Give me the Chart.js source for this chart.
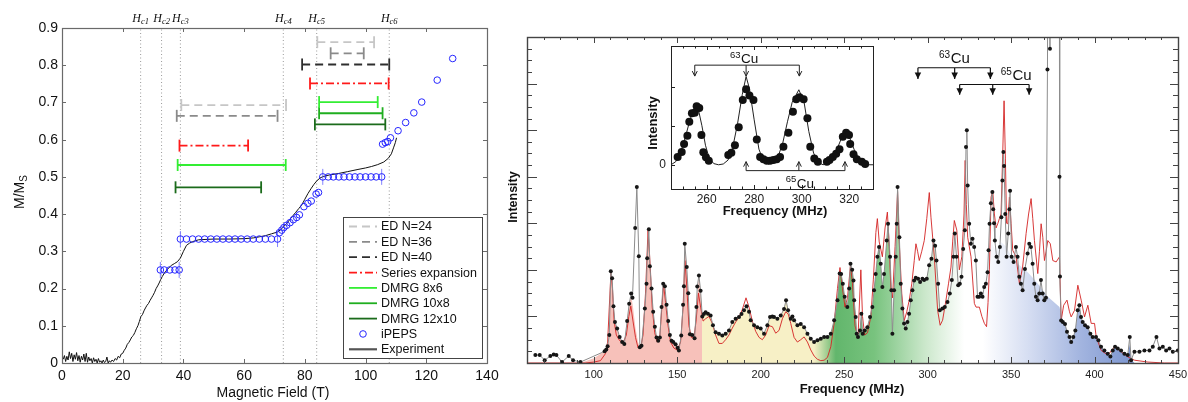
<!DOCTYPE html>
<html>
<head>
<meta charset="utf-8">
<script src="https://cdn.jsdelivr.net/npm/chart.js@4.4.1/dist/chart.umd.min.js"></script>
<style>
  html, body { margin: 0; padding: 0; background: #fff; }
  #lienzo { position: relative; width: 1188px; height: 402px; overflow: hidden; }
  .caja { position: absolute; }
</style>
</head>
<body>
<div id="lienzo">
  <div class="caja" style="left:0;top:0;width:500px;height:402px"><canvas id="graficoMag" width="500" height="402" style="width:500px;height:402px"></canvas></div>
  <div class="caja" style="left:500px;top:0;width:688px;height:402px"><canvas id="graficoNMR" width="688" height="402" style="width:688px;height:402px"></canvas></div>
  <div class="caja" style="left:630px;top:40px;width:250px;height:182px"><canvas id="graficoInset" width="250" height="182" style="width:250px;height:182px"></canvas></div>
</div>
<script>
// ================== DATOS: panel izquierdo (magnetización) ==================
const ticksCampo = [0, 20, 40, 60, 80, 100, 120, 140];
const ticksMag = [0, 0.1, 0.2, 0.3, 0.4, 0.5, 0.6, 0.7, 0.8, 0.9];

// campos críticos Hc1..Hc6 (líneas punteadas)
const nombresHc = ["c1", "c2", "c3", "c4", "c5", "c6"];
const camposHc = [25.9, 32.8, 39.0, 72.9, 83.9, 107.8];

// intervalos [campo inicial, campo final, M/Ms]
const edN24 = [[39.3, 73.8, 0.693], [84.1, 102.8, 0.862]];
const edN36 = [[37.8, 71.0, 0.664], [88.5, 99.4, 0.832]];
const edN40 = [[79.1, 107.8, 0.802]];
const serieExpansion = [[38.7, 61.3, 0.584], [81.7, 107.6, 0.751]];
const dmrg8x6 = [[38.1, 73.7, 0.532], [84.7, 104.0, 0.701]];
const dmrg10x8 = [[84.7, 105.6, 0.671]];
const dmrg12x10 = [[37.4, 65.6, 0.472], [83.3, 106.5, 0.641]];

// puntos iPEPS
const ipeps = [
  [32.4, 0.25], [33.7, 0.25], [35.5, 0.25], [37.2, 0.25], [38.6, 0.25],
  [39, 0.333], [41, 0.333], [43, 0.333], [45, 0.333], [47, 0.333], [49, 0.333], [51, 0.333], [53, 0.333],
  [55, 0.333], [57, 0.333], [59, 0.333], [61, 0.333], [63, 0.333], [65, 0.333], [67, 0.333], [69, 0.333], [71, 0.333],
  [71.6, 0.35], [72.4, 0.357], [73.1, 0.364], [74.0, 0.37], [75.1, 0.377], [76.2, 0.385], [77.3, 0.391], [78.2, 0.398],
  [79.7, 0.42], [81.0, 0.429], [82.1, 0.435], [83.7, 0.454], [84.5, 0.458],
  [85.9, 0.5], [87.7, 0.5], [89.4, 0.5], [91.2, 0.5], [92.9, 0.5], [94.7, 0.5], [96.5, 0.5], [98.2, 0.5],
  [100.0, 0.5], [101.8, 0.5], [103.5, 0.5], [105.3, 0.5],
  [105.6, 0.588], [106.5, 0.592], [107.3, 0.595], [108.2, 0.605],
  [110.7, 0.624], [113.2, 0.646], [115.9, 0.672], [118.5, 0.701], [123.6, 0.76], [128.7, 0.818]
];
// barras de error de iPEPS
const ipepsError = [[32.4, 0.25], [38.6, 0.25], [39, 0.333], [71, 0.333], [85.9, 0.5], [105.3, 0.5]];

// curva experimental
const experimento = [
  [0.4, 0.01], [0.8, 0.02], [1.2, 0.004], [1.6, 0.018], [2.0, 0.008], [2.4, 0.03], [2.8, 0.012], [3.2, 0.026],
  [3.6, 0.004], [4.0, 0.022], [4.4, 0.01], [4.8, 0.028], [5.2, 0.006], [5.6, 0.02], [6.0, 0.002], [6.4, 0.018],
  [6.8, 0.008], [7.2, 0.024], [7.6, 0.004], [8.0, 0.026], [8.4, 0.002], [8.8, 0.016], [9.2, 0.006], [9.6, 0.012],
  [10.0, 0.0], [10.4, 0.014], [10.8, 0.004], [11.2, 0.01], [11.6, 0.0], [12.0, 0.012], [12.4, 0.002], [12.8, 0.006],
  [13.2, 0.0], [13.6, 0.008], [14.0, 0.001], [14.4, 0.004], [14.8, 0.016], [15.2, 0.0], [15.6, 0.006], [16.0, 0.002],
  [16.5, 0.008], [17.0, 0.004], [17.5, 0.012], [18.0, 0.008], [18.5, 0.018], [19.0, 0.014], [19.5, 0.024], [20.0, 0.026],
  [20.5, 0.034], [21, 0.04], [21.5, 0.05], [22, 0.055], [22.5, 0.062], [23, 0.07], [23.5, 0.074], [24, 0.082],
  [24.5, 0.092], [25, 0.1], [25.5, 0.112], [26, 0.125], [26.5, 0.13], [27, 0.14], [27.5, 0.148], [28, 0.155],
  [28.5, 0.16], [29, 0.168], [29.5, 0.175], [30, 0.182], [30.5, 0.19], [31, 0.2], [31.5, 0.207], [32, 0.215],
  [32.5, 0.224], [33, 0.232], [34, 0.245], [35, 0.254], [36, 0.262], [37, 0.267], [38, 0.272], [39, 0.282],
  [40, 0.3], [41, 0.316], [42, 0.322], [43, 0.326], [45, 0.331], [50, 0.333], [55, 0.333], [60, 0.334],
  [63, 0.336], [65, 0.339], [67, 0.342], [69, 0.347], [71, 0.352], [72, 0.358], [73, 0.366], [74, 0.375],
  [75, 0.385], [76, 0.395], [77, 0.405], [78, 0.415], [79, 0.425], [80, 0.44], [81, 0.455], [82, 0.468],
  [83, 0.48], [84, 0.49], [85, 0.497], [86, 0.501], [88, 0.505], [91, 0.509], [94, 0.514], [97.5, 0.52],
  [100, 0.524], [102, 0.528], [104, 0.533], [106, 0.54], [107.5, 0.55], [108.5, 0.562], [109.2, 0.578],
  [109.8, 0.592], [110.2, 0.605]
];

// ================== DATOS: panel derecho (espectro NMR) ==================
const ticksFrecuencia = [100, 150, 200, 250, 300, 350, 400, 450];
const ticksInset = [260, 280, 300, 320];

// espectro medido (puntos negros)
const datosNMR = [
  [65, 0.17], [67.6, 0.17], [70.6, 0.06], [74, 0.15], [76, 0.18], [77.6, 0.17], [81, 0.02], [85, 0.15],
  [87.6, 0.06], [92, 0.02], [106.5, 0.25], [107.5, 0.29], [108.3, 0.36], [109.3, 0.6], [110.2, 1.97], [111, 1.82],
  [111.8, 1.22], [112.7, 0.88], [114, 0.74], [115.5, 0.56], [117, 0.45], [118.3, 0.41], [120, 0.9], [121.2, 1.27],
  [122.4, 1.49], [123.2, 1.4], [124.8, 2.9], [125.8, 3.78], [127, 2.29], [127.6, 0.34], [128.6, 0.37], [130.6, 1.17],
  [131.6, 1.7], [132, 2.25], [133, 2.87], [133.6, 2.08], [134.6, 1.6], [135.6, 1.1], [136.6, 0.78], [137.6, 0.55],
  [138.6, 0.48], [139.6, 0.55], [140.6, 1.2], [141.6, 1.7], [142.6, 1.65], [143.6, 1.25], [144.6, 0.9], [145.6, 0.6],
  [146.6, 0.48], [147.6, 0.45], [149, 0.4], [150.2, 0.33], [151, 0.27], [152.4, 0.59], [153.5, 1.25], [154, 1.65],
  [154.5, 2.56], [155.7, 2.06], [156.6, 1.5], [157.6, 0.62], [159, 0.6], [160.4, 0.53], [161.5, 1.2], [162, 1.64],
  [163, 1.88], [164, 1.55], [165, 1.0], [166, 1.05], [167, 1.09], [168.4, 1.06], [170, 1.02], [171.4, 0.81],
  [173, 0.66], [175, 0.63], [177, 0.59], [179, 0.63], [181, 0.7], [183, 0.88], [185, 0.95], [187, 0.99],
  [188.5, 1.05], [190, 1.13], [191.5, 1.22], [193, 1.1], [194, 0.92], [196, 0.81], [198, 0.77], [200, 0.74],
  [202, 0.63], [204, 0.81], [205.6, 0.99], [207, 1.0], [208, 0.99], [210, 0.95], [212, 1.02], [214, 1.16],
  [215.2, 1.35], [216.4, 1.13], [218, 0.95], [219, 1.0], [220, 0.92], [222, 0.81], [224, 0.84], [226, 0.77],
  [228, 0.63], [230, 0.52], [232, 0.45], [234, 0.49], [236, 0.52], [238, 0.56], [240, 0.56], [242, 0.63],
  [244, 0.92], [246, 1.35], [247.3, 1.92], [248.2, 1.91], [249.2, 1.7], [250.3, 1.42], [251.9, 1.2], [253, 1.6],
  [253.8, 2.13], [254.8, 2.0], [255.6, 1.77], [256, 1.35], [256.9, 0.99], [257.5, 0.63], [258.3, 0.56], [259.5, 0.7],
  [260.3, 1.06], [261.1, 0.63], [262.3, 0.7], [263.9, 0.77], [265.5, 0.99], [266.9, 1.2], [267.9, 1.56], [268.9, 1.91],
  [269.9, 2.28], [270.9, 2.49], [271.9, 2.13], [272.9, 1.63], [273.9, 1.91], [275.5, 2.63], [276.3, 2.99], [277.5, 2.28],
  [278.3, 1.56], [278.9, 0.63], [279.9, 1.56], [280.9, 2.28], [281.5, 2.99], [282, 3.78], [283.1, 2.7], [283.9, 1.7],
  [284.9, 1.17], [285.9, 0.85], [286.9, 0.74], [287.9, 0.88], [288.9, 1.06], [289.9, 1.35], [290.9, 1.56], [291.9, 1.77],
  [292.9, 1.83], [294.3, 1.81], [295.5, 1.74], [296.9, 1.81], [297.9, 1.78], [299.5, 1.81], [300.9, 2.1], [302.3, 2.24],
  [303.5, 2.63], [304.5, 2.52], [305.3, 2.2], [306.3, 1.7], [307.3, 1.13], [308.9, 1.17], [310.3, 1.2], [311.9, 1.31],
  [313.3, 1.49], [314.5, 1.78], [315.5, 2.28], [316.3, 2.78], [317.3, 2.28], [318.3, 1.67], [319.3, 1.7], [320.3, 1.85],
  [321.3, 2.45], [322.3, 2.85], [323, 4.64], [323.5, 5.0], [324, 3.81], [324.9, 2.99], [325.9, 2.56], [326.9, 2.67],
  [327.9, 2.49], [328.9, 2.2], [329.9, 1.42], [330.9, 1.42], [331.9, 1.49], [332.9, 1.42], [333.9, 1.63], [334.9, 1.7],
  [335.9, 1.95], [336.5, 2.42], [337.1, 2.99], [337.9, 3.43], [338.8, 3.67], [339.3, 3.3], [339.8, 3.0], [340.3, 2.63],
  [341.3, 2.28], [342.3, 2.17], [343.3, 2.49], [344.2, 3.13], [344.8, 3.92], [345.4, 4.53], [345.8, 4.23], [346.5, 3.2],
  [347.3, 2.28], [348.3, 2.78], [349.0, 3.3], [349.4, 3.7], [350.3, 2.28], [351.5, 2.17], [352.9, 2.49], [353.9, 2.28],
  [354.9, 1.85], [355.9, 1.7], [356.9, 1.56], [358.3, 2.02], [359.9, 2.35], [360.9, 2.56], [361.9, 2.49], [362.9, 2.13],
  [363.9, 1.7], [364.9, 1.42], [365.9, 1.35], [366.9, 1.49], [367.9, 1.78], [368.9, 1.49], [369.9, 1.35], [370.9, 1.4],
  [371.8, 6.3], [372.3, 12], [373.3, 6.75], [373.8, 12], [378.8, 12], [379, 4.0], [379.3, 1.86], [380, 0.91],
  [381, 0.88], [382.3, 0.84], [383.5, 0.67], [385, 0.56], [386, 0.45], [387.3, 0.56], [388.5, 0.7], [389.9, 1.13],
  [390.9, 1.24], [391.9, 0.99], [392.9, 0.88], [394.3, 0.81], [395.9, 0.77], [397.5, 0.63], [398.9, 0.56], [400.9, 0.56],
  [402.3, 0.49], [403.9, 0.35], [405.9, 0.27], [407.9, 0.2], [409.5, 0.14], [410.9, 0.27], [412.3, 0.35], [413.9, 0.31],
  [415.9, 0.27], [417.9, 0.2], [419.9, 0.17], [421.1, 0.56], [421.9, 0.06], [423.9, 0.24], [426.9, 0.24], [429.9, 0.27],
  [432.9, 0.27], [434.9, 0.35], [437.1, 0.56], [438.9, 0.31], [440.9, 0.35], [442.9, 0.27], [444.9, 0.31], [446.9, 0.24],
  [449.9, 0.27]
];

// espectro simulado (línea roja)
const simulacionNMR = [
  [60, 0], [95, 0], [100, 0.02], [104, 0.05], [107, 0.2], [108.3, 0.45], [109.3, 1.2], [110.3, 1.95], [111.2, 1.6],
  [112.2, 0.9], [113.5, 0.6], [115.5, 0.48], [117.5, 0.43], [119.5, 0.6], [121, 1.0], [122.2, 1.22], [123.5, 0.9],
  [125, 0.55], [126.5, 0.33], [128, 0.32], [129.5, 0.6], [131, 1.5], [132.5, 2.85], [133.8, 2.1], [135, 1.2],
  [136.5, 0.65], [138, 0.45], [139.5, 0.55], [141, 1.3], [141.8, 1.7], [143, 1.3], [144.5, 0.8], [146, 0.45],
  [148, 0.32], [150, 0.28], [152, 0.45], [153.5, 1.2], [154.6, 2.2], [155.8, 1.6], [157, 0.8], [158.5, 0.55],
  [160, 0.55], [161.3, 0.9], [162.7, 1.5], [164, 1.2], [165.5, 0.9], [167, 0.95], [169, 1.0], [171, 0.85],
  [173, 0.6], [175, 0.42], [177, 0.42], [179, 0.5], [181, 0.6], [183, 0.75], [185, 0.88], [187, 0.98],
  [189, 1.15], [191.2, 1.4], [193, 1.2], [195, 0.9], [197, 0.68], [199, 0.55], [201, 0.5], [203, 0.6],
  [205, 0.8], [207, 0.78], [209, 0.64], [211, 0.7], [213, 0.95], [215, 1.1], [216.5, 1.05], [218, 0.85],
  [220, 0.55], [222, 0.45], [224, 0.5], [226, 0.56], [228, 0.45], [230, 0.28], [232, 0.15], [234, 0.08],
  [236, 0.05], [238, 0.06], [240, 0.12], [242, 0.35], [244, 0.85], [246, 1.6], [247.5, 2.05], [249, 1.6],
  [250.5, 1.2], [252, 1.4], [253.8, 2.1], [255, 1.7], [256.5, 0.8], [258.3, 0.55], [260, 2.0], [261, 1.0],
  [262.3, 0.6], [264, 0.65], [266, 1.0], [267.5, 1.8], [269, 2.8], [269.9, 3.1], [271, 2.6], [272.9, 2.28],
  [274.5, 2.9], [275.9, 3.24], [277, 2.5], [278, 1.6], [279, 1.4], [280.5, 2.5], [282, 3.68], [283, 2.6],
  [284.5, 1.5], [286, 0.91], [287.5, 1.1], [289, 1.35], [290.5, 1.7], [292, 2.2], [293, 2.56], [294, 2.4],
  [295, 2.2], [296.5, 2.4], [298, 2.63], [299.5, 3.1], [301, 3.66], [302, 3.13], [304, 2.28], [306, 1.13],
  [307.5, 0.81], [309, 0.92], [311, 1.35], [312.5, 1.7], [314, 2.06], [315, 2.6], [316, 3.06], [317.5, 2.85],
  [319, 2.0], [320.5, 2.28], [321.8, 3.2], [322.5, 4.35], [323.2, 3.4], [324, 2.7], [326, 2.28], [328, 1.28],
  [329, 1.2], [331, 1.2], [332.5, 1.0], [334, 0.85], [335.3, 0.78], [336.2, 1.3], [337, 2.0], [338, 3.56],
  [339, 3.7], [340, 3.2], [341, 2.9], [342, 2.99], [343, 3.1], [344, 3.2], [345, 4.5], [345.8, 5.63],
  [346.6, 4.4], [347.3, 3.0], [348, 2.99], [349, 3.56], [350, 3.0], [351, 2.42], [353, 2.28], [355, 1.7],
  [356.9, 2.06], [359, 2.78], [360.5, 3.2], [362, 3.53], [363, 3.1], [364, 2.63], [366, 1.92], [367, 2.4],
  [368, 2.99], [369, 2.7], [370, 2.2], [371, 2.4], [372, 2.63], [373.5, 2.56], [375, 2.2], [377, 2.17],
  [379, 2.28], [380, 0.91], [381.5, 1.24], [383.5, 1.35], [385, 1.1], [386, 0.99], [388, 1.13], [390, 1.67],
  [392, 1.35], [394, 0.99], [396, 1.24], [398, 0.85], [400, 0.85], [401, 0.56], [404, 0.27], [408, 0.17],
  [412, 0.35], [416, 0.24], [420, 0.13], [424, 0.06], [432, 0.02], [442, 0], [450, 0]
];

// contorno del área sombreada (donde no sigue a los puntos medidos)
const rellenoInicio = [
  [92, 0], [100, 0.1], [106.5, 0.25], [108.3, 0.36], [109.3, 0.6], [110.2, 1.95], [111, 1.8], [111.8, 1.2],
  [112.7, 0.88], [114, 0.74], [115.5, 0.56], [117, 0.45], [118.3, 0.41], [120, 0.9], [121.2, 1.27], [122.4, 1.45],
  [123.5, 1.2], [125, 0.75], [126.5, 0.45], [127.6, 0.34], [128.6, 0.37], [130.6, 1.17], [131.6, 1.7], [132, 2.25],
  [133, 2.87], [133.6, 2.08], [134.6, 1.6], [135.6, 1.1], [136.6, 0.78], [137.6, 0.55], [138.6, 0.48], [139.6, 0.55],
  [140.6, 1.2], [141.6, 1.7], [142.6, 1.65], [143.6, 1.25], [144.6, 0.9], [145.6, 0.6], [146.6, 0.48], [147.6, 0.45],
  [149, 0.4], [150.2, 0.33], [151, 0.27], [152.4, 0.59], [153.5, 1.25], [154.5, 2.56], [155.7, 2.06], [156.6, 1.5],
  [157.6, 0.62], [159, 0.6], [160.4, 0.53], [161.5, 1.2], [163, 1.88], [164, 1.55], [165, 1.0]
];
const rellenoFinal = [
  [318, 2.1], [322, 2.3], [326, 2.5], [330, 2.0], [334, 2.2], [338, 2.6], [341, 2.4], [344, 2.6], [347, 2.5],
  [350, 2.3], [355, 2.1], [360, 1.95], [365, 1.75], [372, 1.42], [379, 1.2], [381, 0.9], [382.3, 0.84],
  [383.5, 0.67], [385, 0.56], [386, 0.45], [387.3, 0.56], [388.5, 0.7], [389.9, 1.13], [390.9, 1.24], [391.9, 0.99],
  [392.9, 0.88], [394.3, 0.81], [395.9, 0.77], [397.5, 0.63], [398.9, 0.56], [400.9, 0.56], [402.3, 0.49],
  [403.9, 0.35], [405.9, 0.27], [407.9, 0.2], [409.5, 0.14], [410.9, 0.27], [412.3, 0.35], [413.9, 0.31],
  [415.9, 0.27], [417.9, 0.2], [419.9, 0.17], [421.1, 0.4], [422, 0.06], [424, 0]
];

// picos marcados con flechas (63Cu y 65Cu)
const picos63Cu = [294.2, 316.2, 337.6];
const picos65Cu = [319.2, 339.0, 360.8];

// recuadro: medida y ajuste
const insetPuntos = [
  [247.8, 0.2], [249.5, 0.33], [250.5, 0.53], [251.9, 0.74], [252.7, 1.1], [253.8, 1.32], [255.0, 1.33], [255.8, 1.5],
  [256.9, 1.45], [257.8, 0.76], [258.6, 0.32], [259.7, 0.19], [260.9, 0.1], [269.1, 0.25], [270.4, 0.31], [271.9, 0.5],
  [273.5, 0.96], [275.2, 1.66], [276.6, 1.93], [278.0, 1.77], [279.7, 1.66], [281.1, 0.65], [282.5, 0.2], [283.9, 0.14],
  [285.3, 0.1], [286.7, 0.1], [288.1, 0.12], [289.5, 0.14], [290.9, 0.2], [292.3, 0.46], [294.4, 0.82], [296.3, 1.36],
  [297.7, 1.68], [299.1, 1.73], [300.8, 1.68], [302.4, 1.19], [303.6, 0.46], [305.3, 0.16], [306.8, 0.08], [310.6, 0.08],
  [311.7, 0.12], [313.1, 0.2], [314.5, 0.28], [315.9, 0.4], [317.3, 0.72], [318.7, 0.82], [319.9, 0.76], [320.4, 0.53],
  [321.8, 0.27], [323.2, 0.14], [325.3, 0.08], [326.7, 0.02]
];
const insetAjuste = [
  [245, 0], [247, 0.08], [249, 0.3], [251, 0.7], [253, 1.15], [254.5, 1.42], [255.5, 1.5], [256.5, 1.42], [258, 1.0],
  [259.5, 0.5], [261, 0.18], [263, 0.03], [265, 0], [267, 0.02], [269, 0.12], [271, 0.45], [273, 1.05], [275, 1.8],
  [276.6, 2.26], [278, 1.95], [280, 1.15], [282, 0.4], [284, 0.08], [286, 0.02], [288, 0.05], [290, 0.2], [292, 0.55],
  [294, 1.1], [296, 1.6], [298.8, 1.92], [301, 1.6], [303, 0.85], [305, 0.3], [307, 0.06], [309, 0], [311, 0.05],
  [313, 0.18], [315, 0.42], [317, 0.72], [318.5, 0.82], [320, 0.72], [322, 0.4], [324, 0.15], [326, 0.04], [328, 0], [330, 0]
];
const picos63Inset = [255, 276.6, 299];
const picos65Inset = [276.6, 298.8, 318.2];

// colores del sombreado por frecuencia (estilo)
const coloresRelleno = [
  [92, "rgb(247,193,186)"], [165, "rgb(247,193,186)"], [165.05, "rgb(247,240,198)"], [232, "rgb(247,240,198)"],
  [245, "rgb(98,182,108)"], [268, "rgb(120,195,126)"], [298, "rgb(202,231,202)"], [322, "rgb(255,255,255)"],
  [333, "rgb(255,255,255)"], [360, "rgb(214,222,242)"], [392, "rgb(162,180,223)"], [424, "rgb(122,148,207)"]
];

// ================== utilidades ==================
const familia = "'Liberation Sans', Arial, Helvetica, sans-serif";
Chart.defaults.font.family = familia;
Chart.defaults.color = "#111";

const aPuntos = (pares) => pares.map((p) => ({ x: p[0], y: p[1] }));

// Fija el tamaño de un eje y anula el relleno extra que Chart.js reserva para las etiquetas
const fijarAlto = (alto) => (s) => { s.height = alto; s.paddingLeft = 0; s.paddingRight = 0; s.paddingTop = 0; s.paddingBottom = 0; };
const fijarAncho = (ancho) => (s) => { s.width = ancho; s.paddingLeft = 0; s.paddingRight = 0; s.paddingTop = 0; s.paddingBottom = 0; };

// Plugin que dibuja el marco y las marcas hacia dentro
function crearMarco(conf) {
  return {
    id: "marco" + conf.nombre,
    afterDatasetsDraw(chart) {
      const { ctx, chartArea: a, scales } = chart;
      const x = scales.x, y = scales.y;
      ctx.save();
      ctx.strokeStyle = conf.color;
      ctx.lineWidth = conf.ancho;
      ctx.beginPath();
      // marcas en el eje x (abajo y arriba)
      const marcasX = (vals, largo) => vals.forEach((v) => {
        const px = Math.round(x.getPixelForValue(v)) + 0.5;
        ctx.moveTo(px, a.bottom); ctx.lineTo(px, a.bottom - largo);
        if (conf.arriba) { ctx.moveTo(px, a.top); ctx.lineTo(px, a.top + largo); }
      });
      // marcas en el eje y (izquierda y derecha)
      const marcasY = (vals, izq, der) => vals.forEach((v) => {
        const py = Math.round(y.getPixelForValue(v)) + 0.5;
        ctx.moveTo(a.left, py); ctx.lineTo(a.left + izq, py);
        if (der) { ctx.moveTo(a.right, py); ctx.lineTo(a.right - der, py); }
      });
      marcasX(conf.xMayor, conf.lxMayor);
      marcasX(conf.xMenor || [], conf.lxMenor || 0);
      marcasY(conf.yMayor, conf.lyMayor, conf.lyMayorDer);
      marcasY(conf.yMenor || [], conf.lyMenor || 0, conf.lyMenorDer);
      ctx.stroke();
      ctx.lineWidth = conf.anchoMarco;
      ctx.strokeRect(a.left + 0.5, a.top + 0.5, a.right - a.left, a.bottom - a.top);
      ctx.restore();
    }
  };
}

// Texto con superíndice (p. ej. 63Cu)
function textoIsotopo(ctx, sup, base, cx, yBase, tamBase, tamSup, subida) {
  ctx.font = tamSup + "px " + familia;
  const w1 = ctx.measureText(sup).width;
  ctx.font = tamBase + "px " + familia;
  const w2 = ctx.measureText(base).width;
  const x0 = cx - (w1 + w2) / 2;
  ctx.textAlign = "left";
  ctx.textBaseline = "alphabetic";
  ctx.font = tamSup + "px " + familia;
  ctx.fillText(sup, x0, yBase - subida);
  ctx.font = tamBase + "px " + familia;
  ctx.fillText(base, x0 + w1 + 0.5, yBase);
}

// Corchete con flechas hacia los picos
function corchete(ctx, xs, yLinea, yPunta, lleno, tam) {
  ctx.beginPath();
  ctx.moveTo(xs[0], yLinea);
  ctx.lineTo(xs[xs.length - 1], yLinea);
  xs.forEach((px) => { ctx.moveTo(px, yLinea); ctx.lineTo(px, yPunta); });
  ctx.stroke();
  const dir = Math.sign(yPunta - yLinea);
  xs.forEach((px) => {
    ctx.beginPath();
    ctx.moveTo(px - tam / 2, yPunta - dir * tam);
    ctx.lineTo(px, yPunta);
    ctx.lineTo(px + tam / 2, yPunta - dir * tam);
    if (lleno) { ctx.closePath(); ctx.fill(); } else { ctx.stroke(); }
  });
}

// ================== PANEL IZQUIERDO ==================
const estiloSeries = [
  { nombre: "ED N=24", datos: edN24, color: "#c6c6c6", dash: [8, 5] },
  { nombre: "ED N=36", datos: edN36, color: "#8a8a8a", dash: [8, 5] },
  { nombre: "ED N=40", datos: edN40, color: "#2e2e2e", dash: [8, 5] },
  { nombre: "Series expansion", datos: serieExpansion, color: "#ff1a1a", dash: [8, 3, 2, 3] },
  { nombre: "DMRG 8x6", datos: dmrg8x6, color: "#33ee33", dash: [] },
  { nombre: "DMRG 10x8", datos: dmrg10x8, color: "#1fae1f", dash: [] },
  { nombre: "DMRG 12x10", datos: dmrg12x10, color: "#1b6b1b", dash: [] }
];

let datasetsMag = [];

// líneas verticales de los campos críticos
camposHc.forEach((h) => {
  datasetsMag.push({
    data: [{ x: h, y: 0 }, { x: h, y: 0.9 }],
    borderColor: "#9a9a9a", borderWidth: 1, borderDash: [1, 2.5], pointRadius: 0, order: 5
  });
});

// intervalos con topes en los extremos
estiloSeries.forEach((s) => {
  s.datos.forEach((iv) => {
    datasetsMag.push({
      data: [{ x: iv[0], y: iv[2] }, { x: iv[1], y: iv[2] }],
      borderColor: s.color, borderWidth: 1.8, borderDash: s.dash,
      pointStyle: "line", pointRotation: 90, pointRadius: 6,
      pointBorderColor: s.color, pointBorderWidth: 1.8, order: 3
    });
  });
});

// curva experimental
datasetsMag.push({
  data: aPuntos(experimento), borderColor: "#111", borderWidth: 1, pointRadius: 0, order: 2
});
// iPEPS: círculos y barras de error
datasetsMag.push({
  data: aPuntos(ipepsError), showLine: false, pointStyle: "line", pointRotation: 90,
  pointRadius: 8, pointBorderColor: "rgba(90,90,255,0.75)", pointBorderWidth: 1, order: 1
});
datasetsMag.push({
  data: aPuntos(ipeps), showLine: false, pointStyle: "circle", pointRadius: 3.3,
  pointBorderColor: "#2626ff", pointBackgroundColor: "rgba(0,0,0,0)", pointBorderWidth: 1, order: 0
});

// Leyenda, títulos y etiquetas Hc del panel izquierdo
const anotacionesMag = {
  id: "anotacionesMag",
  afterDraw(chart) {
    const { ctx, scales: { x } } = chart;
    ctx.save();
    ctx.fillStyle = "#111";
    // etiquetas H_ci encima del marco
    nombresHc.forEach((n, i) => {
      ctx.font = "italic 12px 'Liberation Serif', 'Times New Roman', serif";
      const wH = ctx.measureText("H").width;
      ctx.font = "italic 8.5px 'Liberation Serif', 'Times New Roman', serif";
      const wS = ctx.measureText(n).width;
      const x0 = x.getPixelForValue(camposHc[i]) - (wH + wS) / 2;
      ctx.textAlign = "left";
      ctx.font = "italic 12px 'Liberation Serif', 'Times New Roman', serif";
      ctx.fillText("H", x0, 21.5);
      ctx.font = "italic 8.5px 'Liberation Serif', 'Times New Roman', serif";
      ctx.fillText(n, x0 + wH, 24);
    });
    // título eje x
    ctx.font = "14px " + familia;
    ctx.textAlign = "center";
    ctx.textBaseline = "middle";
    ctx.fillText("Magnetic Field (T)", 273, 393);
    // título eje y: M/M_S
    ctx.save();
    ctx.translate(19, 192);
    ctx.rotate(-Math.PI / 2);
    ctx.font = "14px " + familia;
    const w1 = ctx.measureText("M/M").width;
    ctx.font = "10px " + familia;
    const w2 = ctx.measureText("S").width;
    ctx.textAlign = "left";
    ctx.textBaseline = "alphabetic";
    ctx.font = "14px " + familia;
    ctx.fillText("M/M", -(w1 + w2) / 2, 5);
    ctx.font = "10px " + familia;
    ctx.fillText("S", -(w1 + w2) / 2 + w1, 8);
    ctx.restore();

    // cuadro de leyenda
    const lx = 343, ly = 217, lw = 139, lh = 141;
    ctx.fillStyle = "#fff";
    ctx.fillRect(lx, ly, lw, lh);
    ctx.strokeStyle = "#444";
    ctx.lineWidth = 1;
    ctx.strokeRect(lx + 0.5, ly + 0.5, lw, lh);
    const entradas = estiloSeries.map((s) => ({ texto: s.nombre, color: s.color, dash: s.dash, tipo: "linea" }));
    entradas.push({ texto: "iPEPS", tipo: "circulo" });
    entradas.push({ texto: "Experiment", color: "#555", dash: [], tipo: "linea", ancho: 2.2 });
    entradas.forEach((e, i) => {
      const yc = ly + 9.5 + i * 15.35;
      if (e.tipo === "linea") {
        ctx.beginPath();
        ctx.strokeStyle = e.color;
        ctx.lineWidth = e.ancho || 1.8;
        ctx.setLineDash(e.dash);
        ctx.moveTo(lx + 6, yc);
        ctx.lineTo(lx + 34, yc);
        ctx.stroke();
        ctx.setLineDash([]);
      } else {
        ctx.beginPath();
        ctx.strokeStyle = "#2626ff";
        ctx.lineWidth = 1;
        ctx.arc(lx + 20, yc, 3.3, 0, Math.PI * 2);
        ctx.stroke();
      }
      ctx.fillStyle = "#111";
      ctx.font = "12.5px " + familia;
      ctx.textAlign = "left";
      ctx.textBaseline = "middle";
      ctx.fillText(e.texto, lx + 38, yc + 0.5);
    });
    ctx.restore();
  }
};

new Chart(document.getElementById("graficoMag").getContext("2d"), {
  type: "line",
  data: { datasets: datasetsMag },
  options: {
    responsive: false, animation: false, devicePixelRatio: 1, events: [],
    layout: { padding: { top: 28, right: 13, left: 0, bottom: 0 }, autoPadding: false },
    plugins: { legend: { display: false }, tooltip: { enabled: false } },
    scales: {
      x: {
        type: "linear", min: 0, max: 140,
        afterBuildTicks: (s) => { s.ticks = ticksCampo.map((v) => ({ value: v })); },
        afterFit: fijarAlto(39),
        grid: { display: false, drawTicks: false }, border: { display: false },
        ticks: { font: { size: 14 }, color: "#111", padding: 5, maxRotation: 0, autoSkip: false }
      },
      y: {
        type: "linear", min: 0, max: 0.9,
        afterBuildTicks: (s) => { s.ticks = ticksMag.map((v) => ({ value: v })); },
        afterFit: fijarAncho(62),
        grid: { display: false, drawTicks: false }, border: { display: false },
        ticks: { font: { size: 14 }, color: "#111", padding: 4, callback: (v) => (v === 0 ? "0" : v.toFixed(1)) }
      }
    }
  },
  plugins: [
    crearMarco({ nombre: "Mag", color: "#6a6a6a", ancho: 1, anchoMarco: 1.2, arriba: true,
      xMayor: ticksCampo, lxMayor: 4, yMayor: ticksMag, lyMayor: 4, lyMayorDer: 4 }),
    anotacionesMag
  ]
});

// ================== PANEL DERECHO ==================
// el área sombreada sigue a los datos entre 165 y 315 MHz
const envolventeNMR = [
  ...rellenoInicio,
  ...datosNMR.filter((p) => p[0] > 165 && p[0] < 316),
  ...rellenoFinal
];

// Gradiente horizontal calculado con la escala x
function gradienteRelleno(context) {
  const chart = context.chart;
  const { ctx, chartArea } = chart;
  if (!chartArea) return null;
  const x = chart.scales.x;
  const ancho = chartArea.right - chartArea.left;
  const g = ctx.createLinearGradient(chartArea.left, 0, chartArea.right, 0);
  coloresRelleno.forEach((c) => {
    const t = Math.min(1, Math.max(0, (x.getPixelForValue(c[0]) - chartArea.left) / ancho));
    g.addColorStop(t, c[1]);
  });
  return g;
}

let ticksMenoresX = [];
for (let f = 70; f <= 440; f += 10) { if (f % 50 !== 0) ticksMenoresX.push(f); }
let ticksMenoresY = [];
for (let k = 1; k < 28; k++) { if (k % 4 !== 0) ticksMenoresY.push(k / 4); }

const anotacionesNMR = {
  id: "anotacionesNMR",
  afterDraw(chart) {
    const { ctx, scales: { x, y } } = chart;
    ctx.save();
    ctx.fillStyle = "#111";
    ctx.strokeStyle = "#111";
    ctx.lineWidth = 1.2;
    // títulos de ejes
    ctx.font = "bold 13px " + familia;
    ctx.textAlign = "center";
    ctx.textBaseline = "middle";
    ctx.fillText("Frequency (MHz)", 352, 389);
    ctx.save();
    ctx.translate(14, 197);
    ctx.rotate(-Math.PI / 2);
    ctx.font = "bold 12.5px " + familia;
    ctx.fillText("Intensity", 0, 0);
    ctx.restore();
    // flechas 63Cu y 65Cu
    corchete(ctx, picos63Cu.map((f) => x.getPixelForValue(f)), y.getPixelForValue(6.34), y.getPixelForValue(6.1), true, 6.5);
    corchete(ctx, picos65Cu.map((f) => x.getPixelForValue(f)), y.getPixelForValue(5.98), y.getPixelForValue(5.76), true, 6.5);
    textoIsotopo(ctx, "63", "Cu", x.getPixelForValue(315.9), y.getPixelForValue(6.44), 15, 10, 5.5);
    textoIsotopo(ctx, "65", "Cu", x.getPixelForValue(352.9), y.getPixelForValue(6.07), 15, 10, 5.5);
    ctx.restore();
  }
};

new Chart(document.getElementById("graficoNMR").getContext("2d"), {
  type: "line",
  data: {
    datasets: [
      {
        data: aPuntos(datosNMR), borderColor: "#8c8c8c", borderWidth: 1,
        pointRadius: 2, pointBackgroundColor: "#161616", pointBorderWidth: 0, order: 0
      },
      {
        data: aPuntos(simulacionNMR), borderColor: "rgba(212,36,36,0.9)", borderWidth: 1,
        pointRadius: 0, order: 1
      },
      {
        data: aPuntos(envolventeNMR), borderWidth: 0, borderColor: "rgba(0,0,0,0)",
        backgroundColor: gradienteRelleno, fill: "origin", pointRadius: 0, order: 2
      }
    ]
  },
  options: {
    responsive: false, animation: false, devicePixelRatio: 1, events: [],
    layout: { padding: { top: 37, right: 10, left: 0, bottom: 0 }, autoPadding: false },
    plugins: { legend: { display: false }, tooltip: { enabled: false } },
    scales: {
      x: {
        type: "linear", min: 60, max: 450,
        afterBuildTicks: (s) => { s.ticks = ticksFrecuencia.map((v) => ({ value: v })); },
        afterFit: fijarAlto(39),
        grid: { display: false, drawTicks: false }, border: { display: false },
        ticks: { font: { size: 11 }, color: "#222", padding: 5, maxRotation: 0, autoSkip: false }
      },
      y: {
        type: "linear", min: 0, max: 7,
        afterFit: fijarAncho(27),
        grid: { display: false, drawTicks: false }, border: { display: false },
        ticks: { display: false }
      }
    }
  },
  plugins: [
    crearMarco({ nombre: "NMR", color: "#444", ancho: 1, anchoMarco: 1.4, arriba: true,
      xMayor: ticksFrecuencia, lxMayor: 6, xMenor: ticksMenoresX, lxMenor: 3,
      yMayor: [1, 2, 3, 4, 5, 6], lyMayor: 10, lyMayorDer: 8,
      yMenor: ticksMenoresY, lyMenor: 5, lyMenorDer: 5 }),
    anotacionesNMR
  ]
});

// ================== RECUADRO (INSET) ==================
let ticksMenoresInset = [];
for (let f = 250; f <= 325; f += 5) { if (f % 20 !== 0) ticksMenoresInset.push(f); }

const anotacionesInset = {
  id: "anotacionesInset",
  beforeDraw(chart) {
    // fondo blanco del área del recuadro
    const { ctx, chartArea: a } = chart;
    ctx.save();
    ctx.fillStyle = "#fff";
    ctx.fillRect(a.left, a.top, a.right - a.left, a.bottom - a.top);
    ctx.restore();
  },
  afterDraw(chart) {
    const { ctx, scales: { x, y } } = chart;
    ctx.save();
    ctx.fillStyle = "#111";
    ctx.strokeStyle = "#222";
    ctx.lineWidth = 1;
    ctx.font = "bold 13px " + familia;
    ctx.textAlign = "center";
    ctx.textBaseline = "middle";
    ctx.fillText("Frequency (MHz)", 145, 171);
    ctx.save();
    ctx.translate(23, 83);
    ctx.rotate(-Math.PI / 2);
    ctx.fillText("Intensity", 0, 0);
    ctx.restore();
    corchete(ctx, picos63Inset.map((f) => x.getPixelForValue(f)), y.getPixelForValue(2.55), y.getPixelForValue(2.27), false, 5);
    corchete(ctx, picos65Inset.map((f) => x.getPixelForValue(f)), y.getPixelForValue(-0.15), y.getPixelForValue(0.08), false, 5);
    textoIsotopo(ctx, "63", "Cu", x.getPixelForValue(275.7), y.getPixelForValue(2.6), 13.5, 9.5, 5.5);
    textoIsotopo(ctx, "65", "Cu", x.getPixelForValue(299.1), y.getPixelForValue(-0.585), 13.5, 9.5, 5.5);
    ctx.restore();
  }
};

new Chart(document.getElementById("graficoInset").getContext("2d"), {
  type: "line",
  data: {
    datasets: [
      { data: aPuntos(insetPuntos), showLine: false, pointRadius: 4, pointBackgroundColor: "#111", pointBorderWidth: 0, order: 0 },
      { data: aPuntos(insetAjuste), borderColor: "#222", borderWidth: 1, pointRadius: 0, order: 1 }
    ]
  },
  options: {
    responsive: false, animation: false, devicePixelRatio: 1, events: [],
    layout: { padding: { top: 6, right: 7, left: 0, bottom: 0 }, autoPadding: false },
    plugins: { legend: { display: false }, tooltip: { enabled: false } },
    scales: {
      x: {
        type: "linear", min: 245, max: 330,
        afterBuildTicks: (s) => { s.ticks = ticksInset.map((v) => ({ value: v })); },
        afterFit: fijarAlto(33),
        grid: { display: false, drawTicks: false }, border: { display: false },
        ticks: { font: { size: 12 }, color: "#222", padding: 3, maxRotation: 0, autoSkip: false }
      },
      y: {
        type: "linear", min: -0.62, max: 3.04,
        afterBuildTicks: (s) => { s.ticks = [{ value: 0 }]; },
        afterFit: fijarAncho(41),
        grid: { display: false, drawTicks: false }, border: { display: false },
        ticks: { font: { size: 12 }, color: "#222", padding: 5 }
      }
    }
  },
  plugins: [
    crearMarco({ nombre: "Inset", color: "#222", ancho: 1, anchoMarco: 1, arriba: true,
      xMayor: ticksInset, lxMayor: 4, xMenor: ticksMenoresInset, lxMenor: 2.5,
      yMayor: [0, 1, 2], lyMayor: 4 }),
    anotacionesInset
  ]
});
</script>
</body>
</html>
